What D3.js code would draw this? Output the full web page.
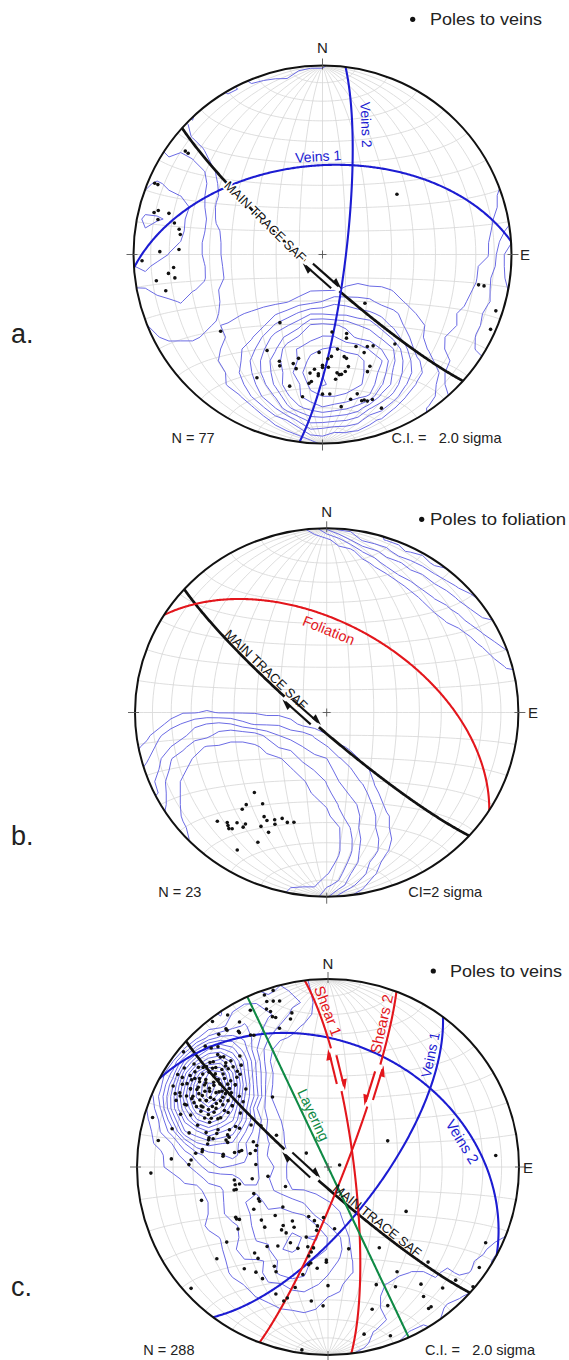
<!DOCTYPE html>
<html>
<head>
<meta charset="utf-8">
<script src="https://cdn.jsdelivr.net/npm/d3@7"></script>
<style>
  html, body { margin: 0; padding: 0; background: #fff; }
  svg { display: block; }
  text { font-family: "Liberation Sans", Arial, sans-serif; }
  .pre { white-space: pre; }
</style>
</head>
<body>
<svg id="fig" width="569" height="1360"></svg>
<script>
// ---------------- data: poles as [trend, plunge] (degrees, lower hemisphere) ----------------
const veinPolesA = [
  [307,10],[307,12],[293,4],[293,6],[284,9],[285,11],[285,17],[282,12],[282,21],[280,24],[278,25],[272,25],[271,15],[268,5],[265,22],[263,19],[261,22],[261,12],[257,16],[233,33],[51,48],[101,17],[101,14],[108,4],[114,3],
  [139,62],[212,55],[173,56],[163,54],[164,52],[210,41],[171,48],[160,47],[154,45],[151,44],[141,39],[182,47],[157,43],[175,45],[177,44],[168,44],[167,43],[193,43],[202,39],[201,37],[195,40],[193,38],[180,41],[180,40],[177,40],[167,39],[157,36],[186,37],[184,39],[173,37],[172,36],[171,36],[169,37],[159,34],[182,37],[182,36],[208,27],[185,33],[186,32],[174,34],[194,29],[188,25],[180,27],[177,27],[169,23],[166,25],[165,21],[164,21],[163,20],[161,20],[173,20],[159,14]
];
const foliationPolesB = [
  [221,42],[220,35],[214,40],[220,32],[224,19],[221,22],[218,25],[220,21],[218,21],[219,20],[215,27],[215,25],[210,35],[208,34],[205,36],[202,38],[204,34],[199,37],[196,38],[209,30],[205,29],[207,22],[212,13]
];
const veinPolesC = [
  [287,39],[288,44],[284,36],[281,36],[284,45],[289,56],[302,64],[277,34],[277,44],[276,44],[279,49],[280,51],[281,52],[280,56],[271,28],[272,59],[262,49],[259,51],[259,49],[256,48],[256,49],[261,57],[261,64],[245,70],[80,85],[255,32],[245,57],[243,57],[228,64],[240,53],[241,44],[239,45],[240,44],[235,42],[231,53],[226,52],[227,59],[213,62],[217,58],[216,56],[212,56],[201,67],[194,66],[185,68],[190,64],[190,62],[209,60],[206,53],[200,52],[197,58],[194,54],[190,54],[191,52],[192,50],[217,46],[212,49],[233,34],[220,40],[217,39],[230,25],[219,31],[214,33],[210,32],[208,40],[206,38],[186,45],[181,49],[181,48],[191,46],[190,47],[193,41],[195,34],[180,37],[202,28],[198,26],[197,28],[187,29],[182,27],[166,53],[174,63],[228,4],
  [66,62],[86,13],[120,51],[148,48],[134,28],[116,9],[124,5],[147,34],[132,11],[130,1],[142,22],[137,13],[158,33],[151,28],[144,16],[144,9],[145,9],[163,22],[157,21],[168,10],[160,5],[188,2],[268,8],[273,19],
  [343,2],[340,3],[340,7],[342,8],[344,9],[339,11],[340,13],[340,16],[341,17],[347,17],[346,20],[341,23],[327,4],[322,2],[329,11],[334,8],[324,10],[324,11],[321,10],[327,15],[327,16],[330,20],[331,21],[315,10],[316,13],[318,15],[309,3],
  [316,18],[316,20],[317,21],[313,19],[316,24],[318,25],[322,26],[320,30],[308,12],[308,15],[309,17],[310,18],[311,21],[312,22],[313,25],[315,27],[317,28],[317,31],[317,33],[302,8],[302,11],[304,14],[304,17],[305,19],[306,22],[309,24],[309,27],[311,29],[312,32],[315,33],[298,9],[300,13],[301,15],[300,18],[302,21],[304,23],[304,26],[306,27],[306,32],[309,34],[312,35],[314,40],[296,12],[297,14],[297,18],[298,21],[300,23],[300,25],[301,29],[304,30],[304,34],[307,36],[294,14],[294,19],[296,23],[296,27],[299,28],[298,32],[300,33],[301,36],[303,40],[308,43],[290,19],[291,24],[294,28],[294,32],[296,34],[295,38],[299,40],[302,45],[284,17],[284,26],[288,29],[286,34],[291,34],[289,39],[291,44],[294,46],[294,48],[299,52],[283,36],[284,38],[285,44],[287,45],[278,34],[283,58],[286,5],[279,11],[322,51],
  [306,15],[307,19],[309,21],[310,24],[312,27],[303,16],[304,20],[305,23],[307,26],[308,29],[310,32],[300,18],[301,21],[302,25],[303,27],[305,31],[306,34],[308,36],[297,21],[298,25],[299,28],[301,31],[302,34],[304,37],[295,25],[296,28],[296,31],[298,34],[299,38],[292,31],[293,34],[294,37],[305,9],[312,18],[315,25],[296,15],[294,20],[303,40],[312,35],[309,40],
  [302,56],[287,58],[276,31],[273,29],[250,56],[303,79]
];

// planes: dip direction / dip (degrees)
const planeNamesA = ["MAIN TRACE SAF", "Veins 1", "Veins 2"];
const planeDipDirA = [222, 356, 97];
const planeDipA    = [83, 51, 80];

const planeNamesB = ["MAIN TRACE SAF", "Foliation"];
const planeDipDirB = [222, 32];
const planeDipB    = [83, 51];

const planeNamesC = ["MAIN TRACE SAF", "Veins 1", "Veins 2", "Shear 1", "Shears 2", "Layering"];
const planeDipDirC = [222, 127, 28, 83, 111, 245];
const planeDipC    = [83, 68, 35, 79, 83, 90];

const legendTexts = ["Poles to veins", "Poles to foliation", "Poles to veins"];
const countTexts  = ["N = 77", "N = 23", "N = 288"];
const ciTexts     = ["C.I. =   2.0 sigma", "CI=2 sigma", "C.I. =   2.0 sigma"];
const contourIntervalSigma = [2, 2, 2];

// ---------------- geometry helpers ----------------
const rad = Math.PI / 180;
function vecFromTrendPlunge(t, p) {               // [North, East, Down]
  t *= rad; p *= rad;
  return [Math.cos(p) * Math.cos(t), Math.cos(p) * Math.sin(t), Math.sin(p)];
}
function lonLatFromVec(v) {                       // net longitude/latitude of a lower-hemisphere line
  let [n, e, d] = v;
  if (d < 0) { n = -n; e = -e; d = -d; }
  return [Math.atan2(e, d) / rad, Math.asin(Math.max(-1, Math.min(1, n))) / rad];
}
function vecFromLonLat([lon, lat]) {
  lon *= rad; lat *= rad;
  return [Math.sin(lat), Math.cos(lat) * Math.sin(lon), Math.cos(lat) * Math.cos(lon)];
}
function planeVec(dipDir, dip, theta) {           // line in a plane, theta from strike end
  const S = vecFromTrendPlunge(dipDir - 90, 0), D = vecFromTrendPlunge(dipDir, dip);
  const c = Math.cos(theta * rad), s = Math.sin(theta * rad);
  return [c * S[0] + s * D[0], c * S[1] + s * D[1], c * S[2] + s * D[2]];
}

const unitProj = d3.geoAzimuthalEqualArea().scale(1 / Math.SQRT2).translate([0, 0]).clipAngle(90);

// Kamb counting: cone area 9/(N+9) of the hemisphere, density expressed in sigma
function kambGrid(poles, n) {
  const N = poles.length, A = 9 / (N + 9), cosT = 1 - A, sigma = Math.sqrt(N * A * (1 - A));
  const vecs = poles.map(([t, p]) => vecFromTrendPlunge(t, p));
  const vals = new Float64Array(n * n);
  for (let j = 0; j < n; j++) {
    for (let i = 0; i < n; i++) {
      let x = -1 + 2 * i / (n - 1), y = -1 + 2 * j / (n - 1);
      const r = Math.hypot(x, y);
      if (r > 0.999) { x *= 0.999 / r; y *= 0.999 / r; }
      const v = vecFromLonLat(unitProj.invert([x, y]));
      let c = 0;
      for (const u of vecs) {
        if (Math.abs(u[0] * v[0] + u[1] * v[1] + u[2] * v[2]) >= cosT) c++;
      }
      vals[j * n + i] = c / sigma;
    }
  }
  return vals;
}

const colorOf = name =>
  name.startsWith("MAIN") ? "#111111" :
  name.startsWith("Veins") ? "#1c1cd2" :
  name.startsWith("Layering") ? "#0f8a45" : "#e3161c";

const fig = d3.select("#fig");
const defs = fig.append("defs");

// ---------------- one stereonet ----------------
function drawNet(cfg) {
  const { key, cx, cy, rx, ry } = cfg;
  const k = ry / rx;
  const proj = d3.geoAzimuthalEqualArea().scale(rx / Math.SQRT2).translate([0, 0]).clipAngle(90).precision(0.1);
  const page = d3.geoTransform({ point(x, y) { this.stream.point(cx + x, cy + y * k); } });
  const path = d3.geoPath({ stream: s => proj.stream(page.stream(s)) });
  const place = v => { const p = proj(lonLatFromVec(v)); return [cx + p[0], cy + p[1] * k]; };

  const clipId = "clip-" + key;
  defs.append("clipPath").attr("id", clipId)
    .append("ellipse").attr("cx", cx).attr("cy", cy).attr("rx", rx).attr("ry", ry);

  const g = fig.append("g");

  // 10-degree net
  g.append("path")
    .datum(d3.geoGraticule().step([10, 10])())
    .attr("d", path).attr("fill", "none")
    .attr("stroke", "#d6d6d6").attr("stroke-width", 0.8);

  // Kamb contours
  const n = 33;
  const vals = kambGrid(cfg.poles, n);
  const maxV = d3.max(vals);
  const ci = cfg.ci;
  const levels = d3.range(ci, maxV + 1e-9, ci);
  const gx = d3.scaleLinear().domain([0.5, n - 0.5]).range([-1, 1]);
  const gridPath = d3.geoPath(d3.geoTransform({
    point(x, y) { this.stream.point(cx + gx(x) * rx, cy + gx(y) * ry); }
  }));
  g.append("g").attr("clip-path", `url(#${clipId})`)
    .selectAll("path")
    .data(d3.contours().size([n, n]).thresholds(levels)(Array.from(vals)))
    .join("path")
    .attr("d", gridPath)
    .attr("fill", "none")
    .attr("stroke", "#6b6be4").attr("stroke-width", 1).attr("stroke-linejoin", "round");

  // great circles
  const line = d3.line();
  const thetas = d3.range(0, 180.01, 0.5);
  cfg.names.forEach((name, i) => {
    const pts = thetas.map(t => place(planeVec(cfg.dipDirs[i], cfg.dips[i], t)));
    g.append("path").attr("d", line(pts)).attr("fill", "none")
      .attr("stroke", colorOf(name))
      .attr("stroke-width", name.startsWith("MAIN") ? 2.7 : 2.1);
  });

  // primitive circle, ticks and centre cross
  g.append("ellipse").attr("cx", cx).attr("cy", cy).attr("rx", rx).attr("ry", ry)
    .attr("fill", "none").attr("stroke", "#111").attr("stroke-width", 2);
  const ticks = [
    [cx, cy - ry - 7, cx, cy - ry + 4], [cx, cy + ry - 4, cx, cy + ry + 7],
    [cx - rx - 7, cy, cx - rx + 4, cy], [cx + rx - 4, cy, cx + rx + 7, cy],
    [cx - 4, cy, cx + 4, cy], [cx, cy - 4, cx, cy + 4]
  ];
  g.selectAll(null).data(ticks).join("line")
    .attr("x1", d => d[0]).attr("y1", d => d[1]).attr("x2", d => d[2]).attr("y2", d => d[3])
    .attr("stroke", "#555").attr("stroke-width", 0.9);

  // poles
  g.append("g").selectAll("circle")
    .data(cfg.poles).join("circle")
    .attr("cx", d => place(vecFromTrendPlunge(d[0], d[1]))[0])
    .attr("cy", d => place(vecFromTrendPlunge(d[0], d[1]))[1])
    .attr("r", 1.8).attr("fill", "#111");

  // tangent frame along a plane trace
  function frame(i, theta) {
    const dd = cfg.dipDirs[i], dp = cfg.dips[i];
    const P = place(planeVec(dd, dp, theta));
    const A = place(planeVec(dd, dp, theta - 0.5)), B = place(planeVec(dd, dp, theta + 0.5));
    let tx = B[0] - A[0], ty = B[1] - A[1];
    const L = Math.hypot(tx, ty); tx /= L; ty /= L;
    return { P, t: [tx, ty], nrm: [ty, -tx] };
  }

  // shear-sense half arrows (sense +1 dextral, -1 sinistral)
  (cfg.arrows || []).forEach(a => {
    const { P, t, nrm } = frame(a.plane, a.theta);
    const col = colorOf(cfg.names[a.plane]);
    const len = a.len, sep = 3.2, hl = 11, hw = 4.6, shift = 4;
    g.append("line")
      .attr("x1", P[0] - t[0] * (len / 2 + shift)).attr("y1", P[1] - t[1] * (len / 2 + shift))
      .attr("x2", P[0] + t[0] * (len / 2 + shift)).attr("y2", P[1] + t[1] * (len / 2 + shift))
      .attr("stroke", "#fff").attr("stroke-width", 4);
    [1, -1].forEach(side => {
      const dir = side * a.sense;
      const ux = t[0] * dir, uy = t[1] * dir;
      const ox = nrm[0] * side, oy = nrm[1] * side;
      const bx = P[0] + ox * sep + ux * shift, by = P[1] + oy * sep + uy * shift;
      const tail = [bx - ux * len / 2, by - uy * len / 2];
      const tip = [bx + ux * len / 2, by + uy * len / 2];
      g.append("line")
        .attr("x1", tail[0]).attr("y1", tail[1])
        .attr("x2", tip[0] - ux * 4).attr("y2", tip[1] - uy * 4)
        .attr("stroke", col).attr("stroke-width", 2.1);
      g.append("path")
        .attr("d", d3.line()([tip, [tip[0] - ux * hl + ox * hw, tip[1] - uy * hl + oy * hw], [tip[0] - ux * hl - ox * 1.1, tip[1] - uy * hl - oy * 1.1]]) + "Z")
        .attr("fill", col);
    });
  });

  // labels riding on the traces
  (cfg.labels || []).forEach(l => {
    const { P, t, nrm } = frame(l.plane, l.theta);
    let ang = Math.atan2(t[1], t[0]) / rad;
    if (ang > 90) ang -= 180;
    if (ang <= -90) ang += 180;
    const x = P[0] + nrm[0] * l.off, y = P[1] + nrm[1] * l.off;
    const txt = g.append("text")
      .attr("transform", `translate(${x},${y}) rotate(${ang})`)
      .attr("text-anchor", "middle").attr("dominant-baseline", "central")
      .attr("font-size", l.size).attr("fill", colorOf(cfg.names[l.plane]))
      .text(cfg.names[l.plane]);
    if (l.halo) txt.attr("stroke", "#fff").attr("stroke-width", 3).attr("paint-order", "stroke");
  });

  // compass letters
  g.append("text").attr("x", cx).attr("y", cfg.nY).attr("text-anchor", "middle")
    .attr("font-size", 15).attr("fill", "#222").text("N");
  g.append("text").attr("x", cfg.eX).attr("y", cy + 5.5)
    .attr("font-size", 15).attr("fill", "#222").text("E");

  // legend
  g.append("circle").attr("cx", cfg.legend[0]).attr("cy", cfg.legend[1]).attr("r", 2.6).attr("fill", "#111");
  g.append("text").attr("x", cfg.legend[2]).attr("y", cfg.legend[3])
    .attr("font-family", "Lato, 'Open Sans', sans-serif").attr("font-size", 17)
    .attr("textLength", cfg.legend[4]).attr("lengthAdjust", "spacingAndGlyphs")
    .attr("fill", "#222").text(cfg.legendText);

  // count and contour interval
  g.append("text").attr("x", cfg.countPos[0]).attr("y", cfg.countPos[1])
    .attr("font-size", 14.5).attr("fill", "#222").text(cfg.countText);
  g.append("text").attr("class", "pre").attr("x", cfg.ciPos[0]).attr("y", cfg.ciPos[1])
    .attr("font-size", 14.5).attr("fill", "#222").text(cfg.ciText);

  // panel letter
  fig.append("text").attr("x", 11).attr("y", cfg.letterY)
    .attr("font-family", "Lato, 'Open Sans', sans-serif").attr("font-size", 27)
    .attr("fill", "#222").text(cfg.letter);
}

drawNet({
  key: "a", letter: "a.", letterY: 343,
  cx: 322.5, cy: 254.5, rx: 189, ry: 189,
  poles: veinPolesA, ci: contourIntervalSigma[0],
  names: planeNamesA, dipDirs: planeDipDirA, dips: planeDipA,
  arrows: [{ plane: 0, theta: 84, sense: 1, len: 38 }],
  labels: [
    { plane: 0, theta: 118, off: -1, size: 13, halo: true },
    { plane: 1, theta: 91, off: 9, size: 14 },
    { plane: 2, theta: 31, off: 14, size: 14 }
  ],
  nY: 53, eX: 520,
  legend: [412.7, 19.3, 430, 25, 112], legendText: legendTexts[0],
  countPos: [171.5, 443], countText: countTexts[0],
  ciPos: [391.5, 443], ciText: ciTexts[0]
});

drawNet({
  key: "b", letter: "b.", letterY: 845,
  cx: 326.7, cy: 712.5, rx: 191.7, ry: 184.2,
  poles: foliationPolesB, ci: contourIntervalSigma[1],
  names: planeNamesB, dipDirs: planeDipDirB, dips: planeDipB,
  arrows: [{ plane: 0, theta: 98, sense: 1, len: 38 }],
  labels: [
    { plane: 0, theta: 122, off: -7, size: 13 },
    { plane: 1, theta: 71.5, off: -13, size: 14.5 }
  ],
  nY: 517, eX: 528,
  legend: [421.7, 519.3, 430, 525, 136], legendText: legendTexts[1],
  countPos: [158.3, 896.7], countText: countTexts[1],
  ciPos: [408.3, 896.7], ciText: ciTexts[1]
});

drawNet({
  key: "c", letter: "c.", letterY: 1296,
  cx: 328, cy: 1167, rx: 191, ry: 188,
  poles: veinPolesC, ci: contourIntervalSigma[2],
  names: planeNamesC, dipDirs: planeDipDirC, dips: planeDipC,
  arrows: [
    { plane: 0, theta: 99, sense: 1, len: 38 },
    { plane: 3, theta: 48, sense: 1, len: 36 },
    { plane: 4, theta: 49.5, sense: -1, len: 36 }
  ],
  labels: [
    { plane: 0, theta: 58.5, off: -7, size: 13 },
    { plane: 1, theta: 20, off: -9, size: 14 },
    { plane: 2, theta: 134, off: -10, size: 15 },
    { plane: 3, theta: 20, off: 9, size: 15 },
    { plane: 4, theta: 19.5, off: -9, size: 15 },
    { plane: 5, theta: 113, off: -9, size: 14.5 }
  ],
  nY: 969, eX: 523,
  legend: [433.3, 971, 450, 976.7, 112], legendText: legendTexts[2],
  countPos: [143.3, 1355], countText: countTexts[2],
  ciPos: [425, 1355], ciText: ciTexts[2]
});
</script>
</body>
</html>
